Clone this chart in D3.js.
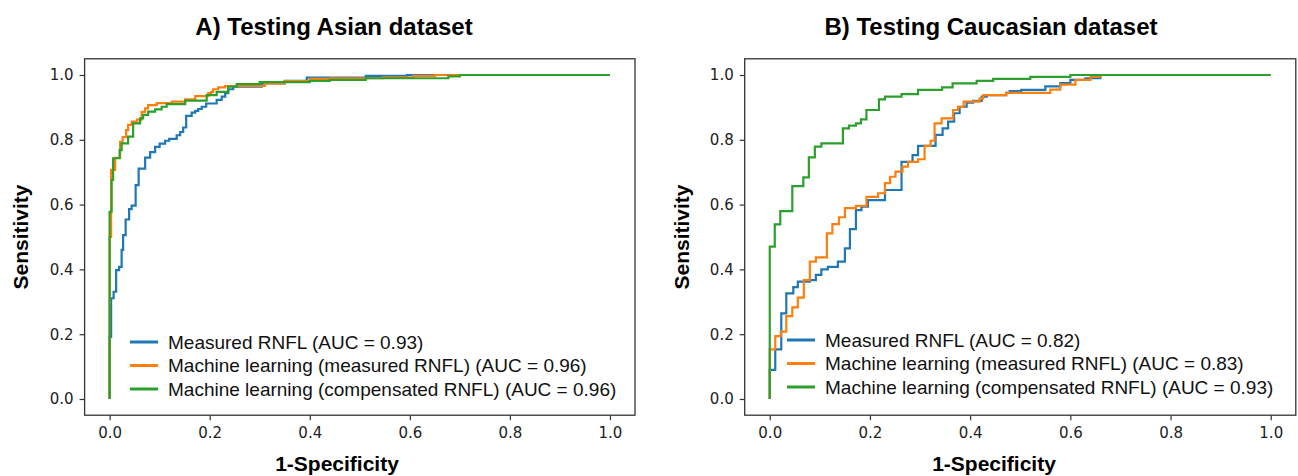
<!DOCTYPE html>
<html>
<head>
<meta charset="utf-8">
<script src="https://cdn.jsdelivr.net/npm/d3@7"></script>
<style>
  body { margin: 0; background: #fff; }
  svg { display: block; }
</style>
</head>
<body>
<svg id="chart" width="1298" height="476"></svg>
<script>
// ROC curves (fpr = 1-specificity, tpr = sensitivity)
var asianMeasuredFpr = [0, 0, 0.003, 0.008, 0.013, 0.019, 0.024, 0.027, 0.032, 0.039, 0.044, 0.052, 0.058, 0.071, 0.081, 0.091, 0.100, 0.111, 0.119, 0.134, 0.141, 0.147, 0.153, 0.164, 0.171, 0.177, 0.184, 0.193, 0.214, 0.224, 0.231, 0.237, 0.247, 0.304, 0.350, 0.394, 0.512, 0.594, 1.0];
var asianMeasuredTpr = [0, 0.192, 0.311, 0.331, 0.398, 0.408, 0.460, 0.506, 0.554, 0.586, 0.597, 0.660, 0.711, 0.745, 0.762, 0.778, 0.788, 0.797, 0.803, 0.814, 0.824, 0.838, 0.874, 0.884, 0.889, 0.895, 0.902, 0.912, 0.923, 0.933, 0.944, 0.956, 0.964, 0.974, 0.982, 0.992, 0.997, 1.0, 1.0];

var asianMlMeasuredFpr = [0, 0, 0.003, 0.011, 0.021, 0.026, 0.033, 0.037, 0.044, 0.055, 0.064, 0.071, 0.077, 0.094, 0.124, 0.151, 0.171, 0.197, 0.203, 0.207, 0.217, 0.231, 0.31, 0.35, 0.40, 0.44, 0.547, 0.607, 0.65, 1.0];
var asianMlMeasuredTpr = [0, 0.50, 0.707, 0.744, 0.794, 0.808, 0.830, 0.846, 0.856, 0.862, 0.886, 0.897, 0.907, 0.913, 0.918, 0.925, 0.935, 0.944, 0.948, 0.956, 0.962, 0.966, 0.974, 0.981, 0.988, 0.990, 0.993, 0.997, 1.0, 1.0];

var asianMlCompFpr = [0, 0, 0.004, 0.007, 0.020, 0.024, 0.037, 0.047, 0.061, 0.067, 0.077, 0.091, 0.104, 0.114, 0.151, 0.194, 0.214, 0.237, 0.254, 0.30, 0.40, 0.44, 0.512, 0.677, 0.70, 1.0];
var asianMlCompTpr = [0, 0.578, 0.676, 0.743, 0.768, 0.789, 0.810, 0.851, 0.866, 0.877, 0.887, 0.894, 0.902, 0.910, 0.921, 0.938, 0.948, 0.964, 0.972, 0.978, 0.982, 0.985, 0.990, 0.996, 1.0, 1.0];

var caucMeasuredFpr = [0, 0, 0.011, 0.023, 0.033, 0.047, 0.056, 0.080, 0.092, 0.103, 0.116, 0.136, 0.150, 0.160, 0.172, 0.183, 0.196, 0.230, 0.263, 0.285, 0.296, 0.331, 0.345, 0.356, 0.368, 0.379, 0.393, 0.406, 0.423, 0.433, 0.472, 0.479, 0.502, 0.55, 0.58, 0.60, 0.63, 0.66, 1.0];
var caucMeasuredTpr = [0, 0.090, 0.153, 0.264, 0.326, 0.345, 0.362, 0.367, 0.383, 0.400, 0.408, 0.424, 0.465, 0.524, 0.583, 0.594, 0.614, 0.645, 0.732, 0.753, 0.781, 0.815, 0.835, 0.856, 0.882, 0.902, 0.915, 0.920, 0.933, 0.938, 0.945, 0.950, 0.954, 0.965, 0.975, 0.985, 0.990, 1.0, 1.0];

var caucMlMeasuredFpr = [0, 0, 0.011, 0.022, 0.033, 0.045, 0.056, 0.068, 0.080, 0.092, 0.114, 0.125, 0.138, 0.150, 0.172, 0.193, 0.216, 0.230, 0.240, 0.251, 0.265, 0.276, 0.296, 0.309, 0.321, 0.329, 0.343, 0.366, 0.376, 0.387, 0.419, 0.426, 0.472, 0.56, 0.58, 0.61, 0.64, 0.66, 1.0];
var caucMlMeasuredTpr = [0, 0.153, 0.194, 0.208, 0.256, 0.283, 0.313, 0.367, 0.424, 0.437, 0.511, 0.540, 0.561, 0.589, 0.596, 0.624, 0.635, 0.666, 0.686, 0.702, 0.717, 0.732, 0.740, 0.781, 0.797, 0.851, 0.866, 0.892, 0.902, 0.918, 0.928, 0.938, 0.945, 0.955, 0.970, 0.985, 0.995, 1.0, 1.0];

var caucMlCompFpr = [0, 0, 0.010, 0.021, 0.045, 0.067, 0.078, 0.090, 0.103, 0.146, 0.158, 0.172, 0.182, 0.193, 0.218, 0.230, 0.263, 0.296, 0.344, 0.365, 0.413, 0.446, 0.52, 0.60, 1.0];
var caucMlCompTpr = [0, 0.470, 0.539, 0.580, 0.657, 0.684, 0.746, 0.779, 0.789, 0.835, 0.844, 0.851, 0.863, 0.892, 0.925, 0.933, 0.941, 0.954, 0.962, 0.974, 0.982, 0.988, 0.994, 1.0, 1.0];

var seriesNames = ['Measured RNFL', 'Machine learning (measured RNFL)', 'Machine learning (compensated RNFL)'];
var asianAuc = [0.93, 0.96, 0.96];
var caucAuc = [0.82, 0.83, 0.93];
var colors = ['#1f77b4', '#ff7f0e', '#2ca02c'];
var tickValues = [0, 0.2, 0.4, 0.6, 0.8, 1.0];

var svg = d3.select('#chart');

var panels = [
  {
    title: 'A) Testing Asian dataset',
    left: 84.6, right: 635, titleX: 334, xLabelX: 337, xLabelY: 471, yLabelX: 28,
    legendX: 130, legendY: 342,
    auc: asianAuc,
    curves: [[asianMeasuredFpr, asianMeasuredTpr], [asianMlMeasuredFpr, asianMlMeasuredTpr], [asianMlCompFpr, asianMlCompTpr]]
  },
  {
    title: 'B) Testing Caucasian dataset',
    left: 744.7, right: 1295.8, titleX: 991, xLabelX: 994, xLabelY: 471, yLabelX: 689,
    legendX: 787, legendY: 340,
    auc: caucAuc,
    curves: [[caucMeasuredFpr, caucMeasuredTpr], [caucMlMeasuredFpr, caucMlMeasuredTpr], [caucMlCompFpr, caucMlCompTpr]]
  }
];

var plotTop = 58.8, plotBottom = 415.2;

panels.forEach(function(p){
  var x = d3.scaleLinear().domain([-0.05, 1.05]).range([p.left, p.right]);
  var y = d3.scaleLinear().domain([-0.05, 1.05]).range([plotBottom, plotTop]);
  var g = svg.append('g');

  var line = d3.line()
    .x(function(d){ return x(d[0]); })
    .y(function(d){ return y(d[1]); })
    .curve(d3.curveStepAfter);

  p.curves.forEach(function(c, i){
    var pts = c[0].map(function(f, k){ return [f, c[1][k]]; });
    g.append('path')
      .datum(pts)
      .attr('d', line)
      .attr('fill', 'none')
      .attr('stroke', colors[i])
      .attr('stroke-width', 2.2);
  });

  // frame
  g.append('rect')
    .attr('x', p.left).attr('y', plotTop)
    .attr('width', p.right - p.left).attr('height', plotBottom - plotTop)
    .attr('fill', 'none').attr('stroke', '#333').attr('stroke-width', 1.3);

  var xAxis = g.append('g')
    .attr('transform', 'translate(0,' + plotBottom + ')')
    .call(d3.axisBottom(x).tickValues(tickValues).tickFormat(d3.format('.1f')).tickSize(5).tickPadding(7).tickSizeOuter(0));
  var yAxis = g.append('g')
    .attr('transform', 'translate(' + p.left + ',0)')
    .call(d3.axisLeft(y).tickValues(tickValues).tickFormat(d3.format('.1f')).tickSize(5).tickPadding(6).tickSizeOuter(0));
  [xAxis, yAxis].forEach(function(a){
    a.select('.domain').remove();
    a.selectAll('line').attr('stroke', '#333').attr('stroke-width', 1.2);
    a.selectAll('text').attr('font-family', 'DejaVu Sans').attr('font-size', 15).attr('fill', '#222');
  });

  g.append('text')
    .attr('x', p.titleX).attr('y', 35)
    .attr('text-anchor', 'middle')
    .attr('font-family', 'Liberation Sans, Arial, sans-serif')
    .attr('font-weight', 'bold').attr('font-size', 24)
    .text(p.title);

  g.append('text')
    .attr('x', p.xLabelX).attr('y', p.xLabelY)
    .attr('text-anchor', 'middle')
    .attr('font-family', 'Liberation Sans, Arial, sans-serif')
    .attr('font-weight', 'bold').attr('font-size', 21)
    .text('1-Specificity');

  g.append('text')
    .attr('transform', 'translate(' + p.yLabelX + ',' + ((plotTop + plotBottom) / 2) + ') rotate(-90)')
    .attr('text-anchor', 'middle')
    .attr('font-family', 'Liberation Sans, Arial, sans-serif')
    .attr('font-weight', 'bold').attr('font-size', 21)
    .text('Sensitivity');

  // legend
  var leg = g.selectAll('g.legend')
    .data(seriesNames)
    .enter()
    .append('g')
    .attr('class', 'legend')
    .attr('transform', function(d, i){ return 'translate(' + p.legendX + ',' + (p.legendY + i * 23.5) + ')'; });
  leg.append('line')
    .attr('x1', 0).attr('x2', 28)
    .attr('stroke', function(d, i){ return colors[i]; })
    .attr('stroke-width', 3);
  leg.append('text')
    .attr('x', 38).attr('dy', '0.35em')
    .attr('font-family', 'Liberation Sans, Arial, sans-serif')
    .attr('font-size', 19).attr('fill', '#111')
    .text(function(d, i){ return d + ' (AUC = ' + p.auc[i].toFixed(2) + ')'; });
});
</script>
</body>
</html>
